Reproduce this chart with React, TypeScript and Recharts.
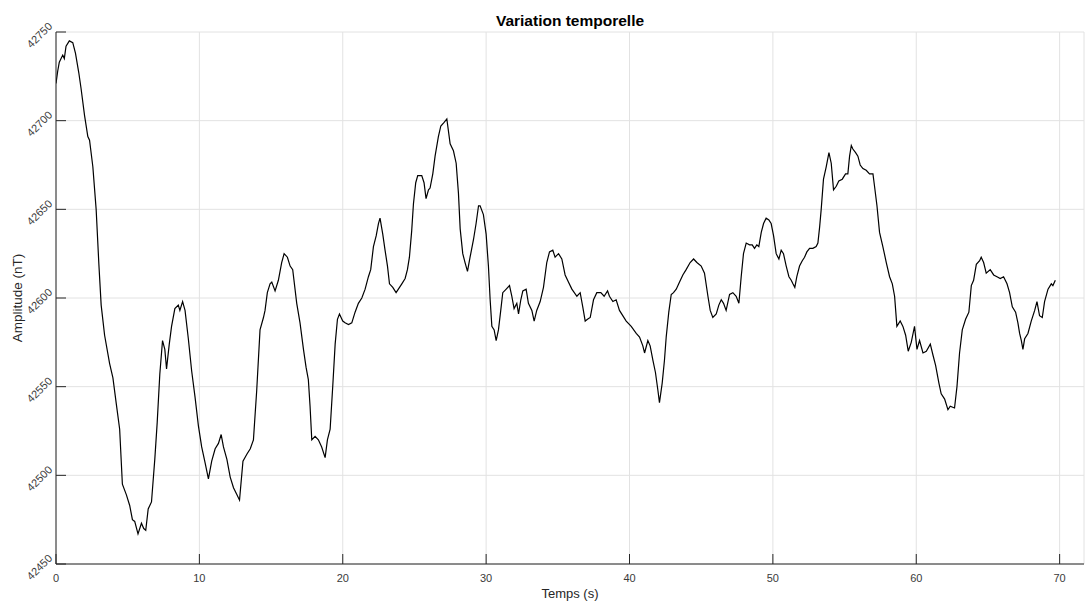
import { LineChart, Line, XAxis, YAxis, CartesianGrid } from 'recharts';

const AXIS = '#262626';
const LABEL = '#3a3a3a';
const GRID = '#e2e2e2';
const FONT = '"Liberation Sans", Arial, Helvetica, sans-serif';

// seconds
const time = [
  0, 0.12, 0.23, 0.47, 0.58, 0.7, 0.93, 1.17, 1.36, 1.59, 1.75, 1.99, 2.22, 2.34, 2.57, 2.8, 2.99, 3.15, 3.39, 3.74,
  3.97, 4.21, 4.44, 4.63, 4.91, 5.14, 5.33, 5.49, 5.72, 5.96, 6.12, 6.26, 6.43, 6.66, 6.89, 7.06, 7.24, 7.43, 7.59, 7.71,
  7.9, 8.06, 8.29, 8.53, 8.64, 8.83, 9.0, 9.23, 9.46, 9.7, 9.93, 10.16, 10.4, 10.63, 10.86, 11.1, 11.33, 11.52, 11.68, 11.92,
  12.15, 12.38, 12.62, 12.8, 13.04, 13.32, 13.55, 13.77, 14.0, 14.23, 14.47, 14.58, 14.74, 14.93, 15.05, 15.28, 15.51, 15.74, 15.91, 16.14,
  16.33, 16.51, 16.79, 17.02, 17.26, 17.44, 17.6, 17.72, 17.84, 18.07, 18.3, 18.53, 18.77, 18.93, 19.12, 19.3, 19.47, 19.63, 19.77, 20.0,
  20.16, 20.4, 20.63, 20.86, 21.09, 21.33, 21.56, 21.79, 21.95, 22.14, 22.33, 22.49, 22.6, 22.79, 22.95, 23.12, 23.26, 23.49, 23.72, 23.88,
  24.12, 24.35, 24.51, 24.65, 24.81, 24.93, 25.09, 25.23, 25.51, 25.67, 25.81, 25.98, 26.09, 26.28, 26.44, 26.67, 26.84, 27.07, 27.26, 27.49,
  27.72, 27.91, 28.07, 28.19, 28.37, 28.53, 28.7, 28.88, 29.12, 29.3, 29.47, 29.58, 29.81, 30.0, 30.16, 30.28, 30.4, 30.56, 30.7, 30.86,
  31.02, 31.16, 31.4, 31.63, 31.79, 31.95, 32.14, 32.26, 32.42, 32.56, 32.79, 32.95, 33.19, 33.35, 33.53, 33.77, 34.0, 34.23, 34.42, 34.65,
  34.81, 35.05, 35.28, 35.51, 35.74, 35.98, 36.33, 36.56, 36.74, 36.91, 37.07, 37.26, 37.49, 37.72, 38.0, 38.23, 38.47, 38.6, 38.84, 39.07,
  39.3, 39.77, 40.12, 40.47, 40.7, 40.93, 41.05, 41.28, 41.44, 41.63, 41.81, 41.98, 42.09, 42.28, 42.44, 42.56, 42.74, 42.91, 43.07, 43.26,
  43.49, 43.72, 43.95, 44.23, 44.47, 44.7, 45.0, 45.23, 45.47, 45.63, 45.81, 46.05, 46.23, 46.4, 46.56, 46.74, 46.98, 47.21, 47.44, 47.63,
  47.79, 47.95, 48.14, 48.37, 48.56, 48.72, 48.88, 49.02, 49.19, 49.35, 49.53, 49.72, 49.88, 50.05, 50.23, 50.42, 50.58, 50.74, 50.93, 51.12,
  51.28, 51.4, 51.53, 51.67, 51.86, 52.05, 52.21, 52.37, 52.56, 52.79, 53.02, 53.14, 53.26, 53.37, 53.53, 53.72, 53.91, 54.07, 54.23, 54.42,
  54.6, 54.84, 55.07, 55.23, 55.35, 55.47, 55.58, 55.77, 55.93, 56.09, 56.28, 56.51, 56.74, 56.98, 57.09, 57.26, 57.44, 57.67, 57.91, 58.14,
  58.33, 58.49, 58.65, 58.88, 59.07, 59.26, 59.44, 59.65, 59.88, 60.05, 60.23, 60.47, 60.7, 60.98, 61.16, 61.35, 61.58, 61.74, 61.98, 62.21,
  62.37, 62.67, 62.84, 63.02, 63.21, 63.44, 63.67, 63.84, 64.0, 64.19, 64.42, 64.53, 64.7, 64.88, 65.16, 65.4, 65.63, 65.86, 66.09, 66.33,
  66.51, 66.7, 66.93, 67.09, 67.21, 67.33, 67.44, 67.56, 67.79, 68.02, 68.26, 68.42, 68.6, 68.79, 68.95, 69.19, 69.42, 69.53, 69.7,
];

// nT
const amplitude = [
  42721, 42728, 42733, 42737, 42735, 42742, 42745, 42744, 42738, 42727, 42718, 42703, 42691, 42689, 42674, 42650, 42619, 42596, 42579, 42563,
  42555, 42540, 42526, 42495, 42489, 42483, 42475, 42474, 42467, 42473, 42470, 42469, 42481, 42485, 42509, 42530, 42557, 42576, 42571, 42560,
  42574, 42584, 42594, 42596, 42593, 42598, 42593, 42577, 42559, 42544, 42528, 42516, 42507, 42498, 42508, 42515, 42518, 42523, 42516, 42509,
  42499, 42493, 42489, 42486, 42508, 42512, 42515, 42520, 42548, 42582, 42589, 42593, 42603, 42608, 42609, 42604, 42610, 42620, 42625, 42623,
  42618, 42616, 42597, 42586, 42571, 42561, 42554, 42539, 42520, 42522, 42520, 42516, 42510, 42520, 42526, 42550, 42574, 42588, 42591, 42587,
  42586, 42585, 42586, 42592, 42597, 42600, 42605, 42612, 42616, 42629, 42635, 42642, 42645, 42636, 42627, 42618, 42608, 42606, 42603, 42605,
  42608, 42611, 42616, 42623, 42638, 42653, 42665, 42669, 42669, 42665, 42656, 42661, 42662, 42670, 42680, 42691, 42697, 42699, 42701, 42687,
  42683, 42676, 42659, 42639, 42625, 42620, 42615, 42623, 42633, 42642, 42652, 42652, 42647, 42636, 42618, 42599, 42584, 42582, 42576, 42582,
  42593, 42603, 42605, 42607, 42601, 42594, 42597, 42591, 42599, 42604, 42605, 42597, 42593, 42587, 42593, 42598, 42606, 42620, 42626, 42627,
  42623, 42625, 42622, 42613, 42609, 42605, 42601, 42603, 42595, 42587, 42588, 42589, 42599, 42603, 42603, 42601, 42604, 42601, 42598, 42599,
  42593, 42587, 42584, 42580, 42578, 42573, 42569, 42576, 42573, 42565, 42558, 42548, 42541, 42552, 42565, 42578, 42592, 42602, 42603, 42605,
  42609, 42613, 42616, 42620, 42622, 42620, 42618, 42614, 42601, 42593, 42589, 42591, 42596, 42599, 42597, 42593, 42602, 42603, 42601, 42597,
  42612, 42625, 42631, 42630, 42630, 42628, 42630, 42629, 42637, 42642, 42645, 42644, 42642, 42635, 42625, 42622, 42627, 42625, 42618, 42612,
  42610, 42608, 42606, 42612, 42618, 42621, 42623, 42626, 42628, 42628, 42629, 42631, 42640, 42650, 42667, 42674, 42682, 42676, 42661, 42663,
  42666, 42667, 42670, 42670, 42680, 42686, 42684, 42682, 42680, 42675, 42673, 42672, 42670, 42670, 42663, 42652, 42637, 42629, 42620, 42612,
  42608, 42601, 42584, 42587, 42584, 42579, 42570, 42575, 42584, 42571, 42576, 42569, 42570, 42574, 42568, 42562, 42552, 42546, 42543, 42537,
  42539, 42538, 42550, 42569, 42582, 42588, 42592, 42607, 42610, 42619, 42621, 42623, 42620, 42614, 42616, 42613, 42612, 42611, 42612, 42608,
  42603, 42595, 42592, 42586, 42580, 42576, 42571, 42577, 42580, 42587, 42593, 42598, 42590, 42589, 42598, 42605, 42608, 42607, 42610,
];

const xTicks = [0, 10, 20, 30, 40, 50, 60, 70];
const yTicks = [42450, 42500, 42550, 42600, 42650, 42700, 42750];

const data = time.map((t, i) => ({ t, v: amplitude[i] }));

function BottomTick({ x, y, payload }: any) {
  return (
    <g>
      <line x1={x} y1={y} x2={x} y2={y - 10} stroke={AXIS} />
      <text x={x} y={y + 18} textAnchor="middle" fontSize={11} fill={LABEL} fontFamily={FONT}>
        {payload.value}
      </text>
    </g>
  );
}

function TopTick({ x, y }: any) {
  return <line x1={x} y1={y} x2={x} y2={y + 10} stroke={AXIS} />;
}

function LeftTick({ x, y, payload }: any) {
  const ax = x - 3;
  const ay = y - 5;
  return (
    <g>
      <line x1={x} y1={y} x2={x + 10} y2={y} stroke={AXIS} />
      <text
        x={ax}
        y={ay}
        textAnchor="end"
        fontSize={11}
        fill={LABEL}
        fontFamily={FONT}
        transform={`rotate(-45 ${ax} ${ay})`}
      >
        {payload.value}
      </text>
    </g>
  );
}

function RightTick({ x, y }: any) {
  return <line x1={x - 10} y1={y} x2={x} y2={y} stroke={AXIS} />;
}

export default function App() {
  return (
    <div style={{ position: 'absolute', left: 0, top: 0, width: 1085, height: 604, background: '#fff' }}>
      <LineChart width={1085} height={604} data={data} margin={{ top: 32, right: 1, bottom: 0, left: 0 }}>
        <CartesianGrid stroke={GRID} />
        <XAxis
          dataKey="t"
          type="number"
          domain={[0, 71.7]}
          ticks={xTicks}
          height={40}
          tickSize={0}
          tickMargin={0}
          tickLine={false}
          axisLine={{ stroke: AXIS }}
          tick={<BottomTick />}
          allowDataOverflow
        />
        <XAxis
          xAxisId="top"
          orientation="top"
          dataKey="t"
          type="number"
          domain={[0, 71.7]}
          ticks={xTicks}
          height={0}
          tickSize={0}
          tickMargin={0}
          tickLine={false}
          axisLine={{ stroke: AXIS }}
          tick={<TopTick />}
          allowDataOverflow
        />
        <YAxis
          type="number"
          domain={[42450, 42750]}
          ticks={yTicks}
          width={56}
          tickSize={0}
          tickMargin={0}
          tickLine={false}
          axisLine={{ stroke: AXIS }}
          tick={<LeftTick />}
          allowDataOverflow
        />
        <YAxis
          yAxisId="right"
          orientation="right"
          type="number"
          domain={[42450, 42750]}
          ticks={yTicks}
          width={0}
          tickSize={0}
          tickMargin={0}
          tickLine={false}
          axisLine={{ stroke: AXIS }}
          tick={<RightTick />}
          allowDataOverflow
        />
        <Line
          type="linear"
          dataKey="v"
          stroke="#000"
          strokeWidth={1.2}
          dot={false}
          isAnimationActive={false}
        />
      </LineChart>
      <svg
        width={1085}
        height={604}
        style={{ position: 'absolute', left: 0, top: 0, pointerEvents: 'none' }}
        fontFamily={FONT}
      >
        <text x={570} y={25.5} textAnchor="middle" fontSize={15.5} fontWeight="bold" fill="#000">
          Variation temporelle
        </text>
        <text x={570} y={598} textAnchor="middle" fontSize={13} fill={AXIS}>
          Temps (s)
        </text>
        <text x={22} y={298} textAnchor="middle" fontSize={13.5} fill={AXIS} transform="rotate(-90 22 298)">
          Amplitude (nT)
        </text>
      </svg>
    </div>
  );
}
